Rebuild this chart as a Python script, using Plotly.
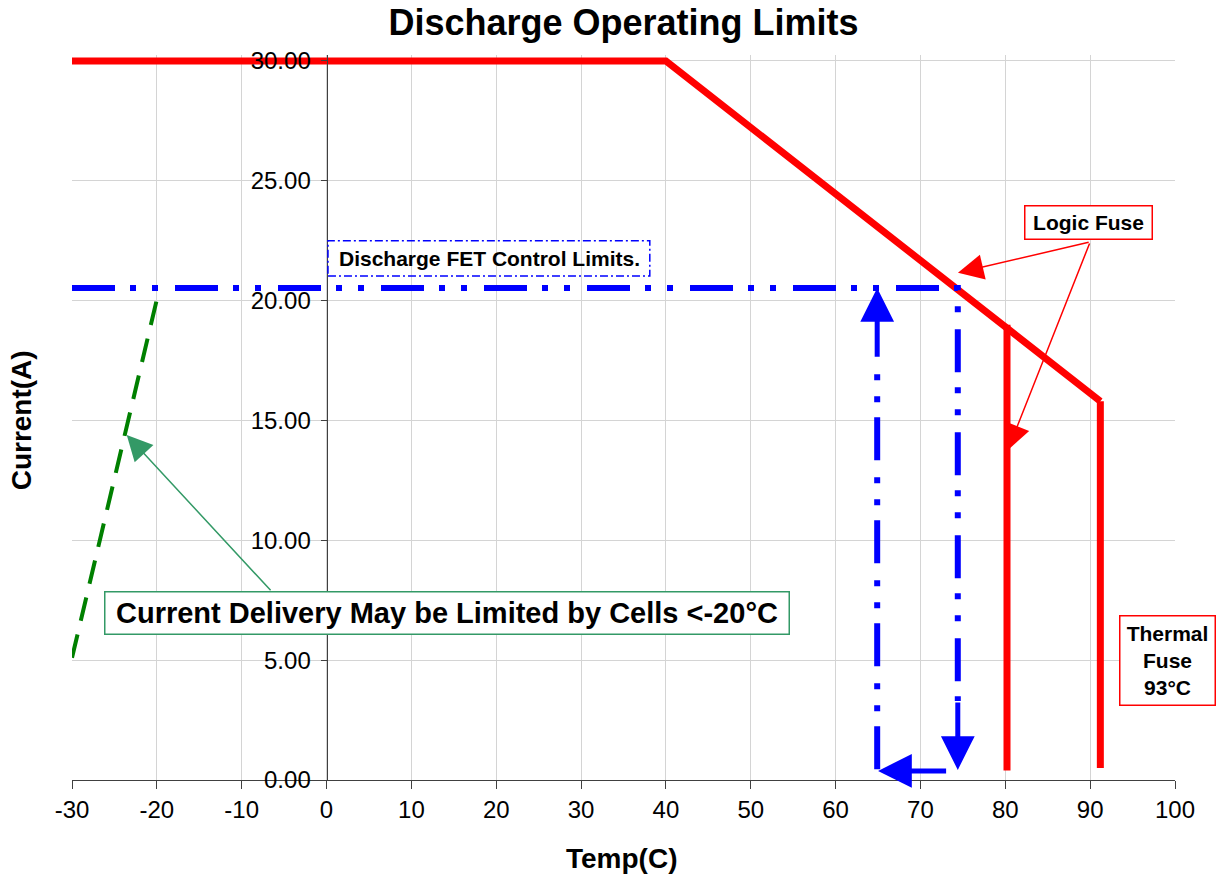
import plotly.graph_objects as go

# ---------------- data ----------------
derate_temp = [-30, 40, 91.2]
derate_current = [30, 30, 15.8]

logic_fuse_temp = [80.2, 80.2]
logic_fuse_current = [19.0, 0.4]

thermal_fuse_temp = [91.2, 91.2]
thermal_fuse_current = [15.8, 0.5]

fet_temp = [-30, 74.4, 74.4]
fet_current = [20.53, 20.53, 3.3]
fet_down_arrow_current = [3.3, 0.42]

fet_return_temp = [64.9, 64.9]
fet_return_current = [0.45, 17.6]
fet_up_arrow_current = [17.6, 20.53]

fet_bottom_arrow_temp = [73.2, 65.0]
fet_bottom_arrow_current = 0.38

cell_temp = [-30, -19.7]
cell_current = [5.1, 20.5]

x_ticks = [-30, -20, -10, 0, 10, 20, 30, 40, 50, 60, 70, 80, 90, 100]
y_ticks = [0, 5, 10, 15, 20, 25, 30]

FONT = "Liberation Sans, Arial, sans-serif"
BLUE = "#0000FF"
RED = "#FF0000"
GREEN = "#008000"
SEA = "#339966"

fig = go.Figure()

fig.add_trace(go.Scatter(x=derate_temp, y=derate_current, mode="lines",
                         line=dict(color=RED, width=7), hoverinfo="skip"))
fig.add_trace(go.Scatter(x=logic_fuse_temp, y=logic_fuse_current, mode="lines",
                         line=dict(color=RED, width=7), hoverinfo="skip"))
fig.add_trace(go.Scatter(x=thermal_fuse_temp, y=thermal_fuse_current, mode="lines",
                         line=dict(color=RED, width=7), hoverinfo="skip"))

blue_dash = "43px,15px,6px,16px,6px,17px"
fig.add_trace(go.Scatter(x=fet_temp, y=fet_current, mode="lines",
                         line=dict(color=BLUE, width=6, dash=blue_dash), hoverinfo="skip"))
fig.add_trace(go.Scatter(x=fet_return_temp, y=fet_return_current, mode="lines",
                         line=dict(color=BLUE, width=6, dash=blue_dash), hoverinfo="skip"))

fig.add_trace(go.Scatter(x=cell_temp, y=cell_current, mode="lines",
                         line=dict(color=GREEN, width=4, dash="24px,14px"), hoverinfo="skip"))

annotations = []

# blue arrows
annotations.append(dict(x=fet_temp[-1], y=fet_down_arrow_current[1], ax=fet_temp[-1], ay=fet_down_arrow_current[0],
                        xref="x", yref="y", axref="x", ayref="y", text="", showarrow=True,
                        arrowhead=2, arrowsize=1.35, arrowwidth=5, arrowcolor=BLUE))
annotations.append(dict(x=fet_return_temp[0], y=fet_up_arrow_current[1], ax=fet_return_temp[0], ay=fet_up_arrow_current[0],
                        xref="x", yref="y", axref="x", ayref="y", text="", showarrow=True,
                        arrowhead=2, arrowsize=1.35, arrowwidth=5, arrowcolor=BLUE))
annotations.append(dict(x=fet_bottom_arrow_temp[1], y=fet_bottom_arrow_current,
                        ax=fet_bottom_arrow_temp[0], ay=fet_bottom_arrow_current,
                        xref="x", yref="y", axref="x", ayref="y", text="", showarrow=True,
                        arrowhead=2, arrowsize=1.35, arrowwidth=5, arrowcolor=BLUE))

# FET label
annotations.append(dict(x=19.2, y=21.77, xref="x", yref="y", text="<b>Discharge FET Control Limits.</b>",
                        showarrow=False, font=dict(family=FONT, size=21, color="black"),
                        xanchor="center", yanchor="middle"))

# Logic fuse
annotations.append(dict(x=89.8, y=23.27, xref="x", yref="y", text="<b>Logic Fuse</b>",
                        showarrow=False, font=dict(family=FONT, size=21, color="black"),
                        bgcolor="white", bordercolor=RED, borderwidth=1.5, borderpad=2,
                        width=122, height=28, xanchor="center", yanchor="middle"))
for tip in [(74.42, 21.16), (80.31, 13.77)]:
    annotations.append(dict(x=tip[0], y=tip[1], ax=90.0, ay=22.45, xref="x", yref="y",
                            axref="x", ayref="y", text="", showarrow=True,
                            arrowhead=2, arrowsize=3.4, arrowwidth=1.5, arrowcolor=RED))

# Thermal fuse
annotations.append(dict(x=99.1, y=5.0, xref="x", yref="y", text="<b>Thermal<br>Fuse<br>93°C</b>",
                        showarrow=False, font=dict(family=FONT, size=21, color="black"),
                        bgcolor="white", bordercolor=RED, borderwidth=1.5, borderpad=2,
                        width=90, height=84, xanchor="center", yanchor="middle"))

# Cell limit annotation
annotations.append(dict(x=-23.55, y=14.4, ax=-6.43, ay=7.85, xref="x", yref="y", axref="x", ayref="y",
                        text="", showarrow=True, arrowhead=2, arrowsize=3.4, arrowwidth=1.5, arrowcolor=SEA))
annotations.append(dict(x=14.25, y=6.97, xref="x", yref="y",
                        text="<b>Current Delivery May be Limited by Cells <-20°C</b>",
                        showarrow=False, font=dict(family=FONT, size=29, color="black"),
                        bgcolor="white", bordercolor=SEA, borderwidth=1.5, borderpad=2,
                        width=679, height=37, xanchor="center", yanchor="middle"))

# axis titles
annotations.append(dict(x=0.4986, y=-0.1076, xref="paper", yref="paper", text="<b>Temp(C)</b>",
                        showarrow=False, font=dict(family=FONT, size=28, color="black"),
                        xanchor="center", yanchor="middle"))
annotations.append(dict(x=-0.045, y=0.4966, xref="paper", yref="paper", text="<b>Current(A)</b>",
                        showarrow=False, font=dict(family=FONT, size=28, color="black"),
                        textangle=-90, xanchor="center", yanchor="middle"))

shapes = [dict(type="rect", xref="x", yref="y", x0=0.17, x1=38.1, y0=21.03, y1=22.5,
               line=dict(color=BLUE, width=1.5, dash="8px,3px,2px,3px"), fillcolor="rgba(0,0,0,0)",
               layer="above")]

fig.update_layout(
    width=1221, height=877,
    margin=dict(l=72, r=46, t=55, b=97),
    paper_bgcolor="white", plot_bgcolor="white",
    showlegend=False,
    title=dict(text="<b>Discharge Operating Limits</b>", x=0.5, xref="paper", y=0.975, yanchor="middle",
               font=dict(family=FONT, size=36, color="black")),
    xaxis=dict(range=[-30, 100], tickvals=x_ticks, ticktext=[str(v) for v in x_ticks],
               showgrid=True, gridcolor="#d4d4d4", gridwidth=1,
               showline=True, linecolor="#404040", linewidth=1,
               ticks="outside", ticklen=8, tickcolor="#404040",
               zeroline=False, tickfont=dict(family=FONT, size=24, color="black")),
    yaxis=dict(range=[0, 30.25], tickvals=y_ticks, ticktext=[f"{v:.2f}" for v in y_ticks],
               anchor="free", position=3/13, side="left",
               showgrid=True, gridcolor="#d4d4d4", gridwidth=1,
               showline=True, linecolor="#404040", linewidth=1,
               ticks="outside", ticklen=6, tickcolor="#404040", ticklabelstandoff=5,
               zeroline=False, tickfont=dict(family=FONT, size=24, color="black")),
    annotations=annotations,
    shapes=shapes,
)

fig.write_html("out.html", config={"displayModeBar": False},
               post_script="document.body.style.margin='0';document.body.style.overflow='hidden';")
